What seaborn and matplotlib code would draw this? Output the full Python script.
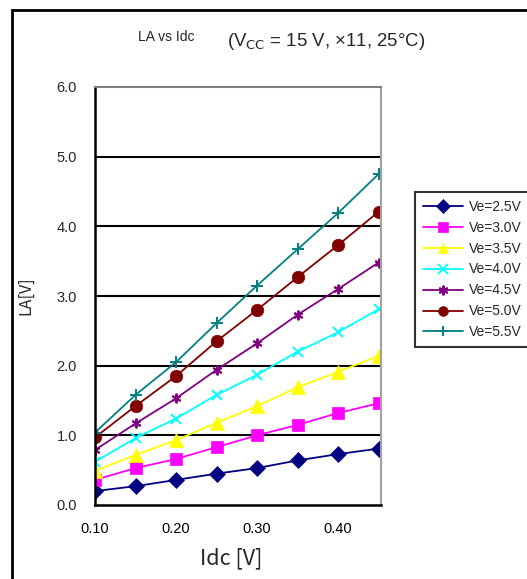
import numpy as np
import pandas as pd
import matplotlib
matplotlib.use("Agg")
import matplotlib.pyplot as plt
import seaborn as sns
from matplotlib.patches import Rectangle

idc = [0.10, 0.15, 0.20, 0.25, 0.30, 0.35, 0.40, 0.45]
series_names = ["Ve=2.5V", "Ve=3.0V", "Ve=3.5V", "Ve=4.0V", "Ve=4.5V", "Ve=5.0V", "Ve=5.5V"]
ve25 = [0.20, 0.27, 0.36, 0.45, 0.53, 0.64, 0.73, 0.81]
ve30 = [0.36, 0.53, 0.66, 0.83, 1.00, 1.15, 1.32, 1.46]
ve35 = [0.49, 0.72, 0.93, 1.18, 1.42, 1.69, 1.91, 2.14]
ve40 = [0.62, 0.96, 1.24, 1.58, 1.87, 2.20, 2.48, 2.81]
ve45 = [0.79, 1.17, 1.53, 1.94, 2.32, 2.73, 3.10, 3.48]
ve50 = [0.97, 1.42, 1.85, 2.35, 2.80, 3.27, 3.73, 4.21]
ve55 = [1.04, 1.58, 2.05, 2.61, 3.15, 3.67, 4.19, 4.75]
x_ticks = [0.10, 0.20, 0.30, 0.40]
x_tick_labels = ["0.10", "0.20", "0.30", "0.40"]
y_ticks = [0.0, 1.0, 2.0, 3.0, 4.0, 5.0, 6.0]
y_tick_labels = ["0.0", "1.0", "2.0", "3.0", "4.0", "5.0", "6.0"]

all_vals = [ve25, ve30, ve35, ve40, ve45, ve50, ve55]
df = pd.DataFrame({
    "Idc": np.tile(idc, len(series_names)),
    "LA": np.concatenate(all_vals),
    "Series": np.repeat(series_names, len(idc)),
})

colors = ["#000080", "#FF00FF", "#FFFF00", "#00FFFF", "#800080", "#800000", "#008080"]
markers = ["D", "s", "^", "x", (6, 2, 0), "o", "+"]
msizes = [8, 8, 10, 7, 7, 9, 8]

sns.set_style("white")
plt.rcParams["font.family"] = ["Liberation Sans", "DejaVu Sans"]

fig = plt.figure(figsize=(5.27, 5.79), dpi=100)
ax = fig.add_axes([95/527, 1-505/579, (381-95)/527, (505-87)/579])

for name, c, m, ms in zip(series_names, colors, markers, msizes):
    sub = df[df["Series"] == name]
    thin = m in ("x", "+") or isinstance(m, tuple)
    sns.lineplot(data=sub, x="Idc", y="LA", ax=ax, color=c, marker=m,
                 markersize=ms, markeredgecolor=c, markeredgewidth=1.4 if thin else 0.5,
                 linewidth=1.3, label=name, legend=False)

ax.set_xlim(0.10, 0.453)
ax.set_ylim(0, 6)
ax.set_xticks(x_ticks)
ax.set_xticklabels(x_tick_labels, fontsize=10.5)
ax.set_yticks(y_ticks)
ax.set_yticklabels(y_tick_labels, fontsize=10.5)
ax.tick_params(axis="x", direction="in", length=4, width=1.2, pad=12, colors="black")
ax.tick_params(axis="y", direction="in", length=0, pad=13)
for yv in [1, 2, 3, 4, 5]:
    ax.axhline(yv, color="black", linewidth=1.5, zorder=0)
ax.spines["left"].set_color("black"); ax.spines["left"].set_linewidth(1.8)
ax.spines["bottom"].set_color("black"); ax.spines["bottom"].set_linewidth(1.8)
ax.spines["top"].set_color("#808080"); ax.spines["top"].set_linewidth(1.5)
ax.spines["right"].set_color("#a0a0a0"); ax.spines["right"].set_linewidth(1.5)

ax.set_xlabel("Idc [V]", fontsize=15.5, family=["Noto Sans CJK JP", "DejaVu Sans"])
ax.xaxis.set_label_coords((231.5-95)/286, (505-547)/418)
ax.set_ylabel("LA[V]", fontsize=11.5, family=["Noto Sans CJK JP", "DejaVu Sans"])
ax.yaxis.set_label_coords((34-95)/286, 0.5)

fig.text(166/527, 1-37/579, "LA vs Idc", fontsize=10, ha="center", va="center")
fig.text(326/527, 1-42/579, r"(V$_{\mathrm{CC}}$ = 15 V, ×11, 25°C)", fontsize=13.4, ha="center", va="center")

handles, labels = ax.get_legend_handles_labels()
leg = fig.legend(handles, labels, loc="upper left", bbox_to_anchor=(415/527, 1-192/579),
                 fontsize=10, frameon=True, fancybox=False, handlelength=2.9,
                 labelspacing=0.5, borderpad=0.55, handletextpad=0.4, borderaxespad=0)
leg.get_frame().set_edgecolor("black")
leg.get_frame().set_linewidth(1.5)
for h in leg.legend_handles:
    h.set_markersize(7)

fig.patches.append(Rectangle((12/527, -0.1), 1.2, 1-10/579+0.1, transform=fig.transFigure,
                             fill=False, edgecolor="black", linewidth=2, zorder=-1))

fig.savefig("out.png", dpi=100)
